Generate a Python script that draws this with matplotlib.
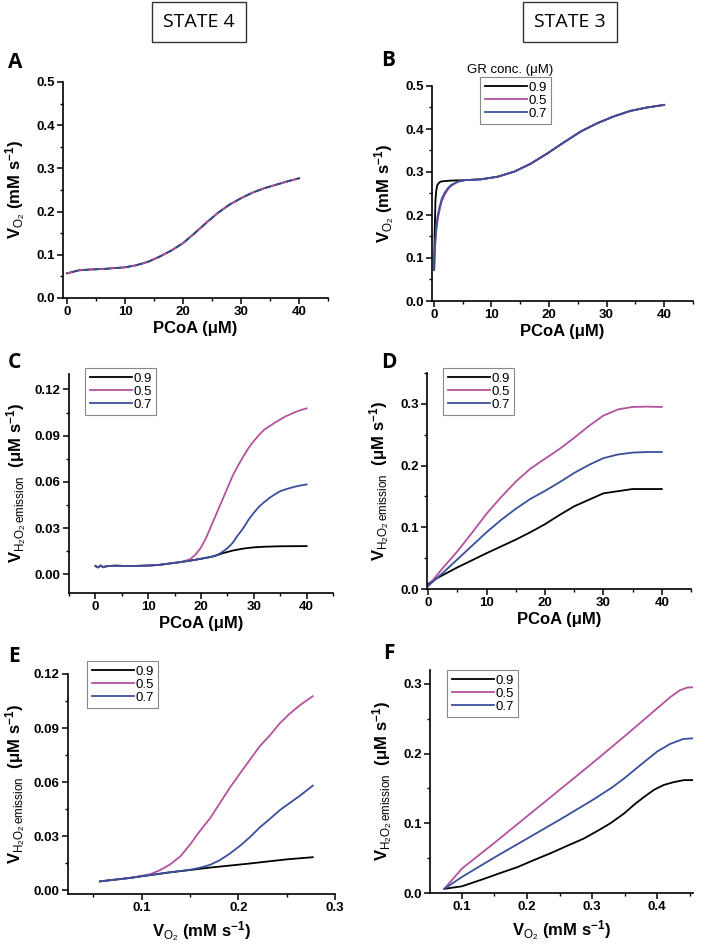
import matplotlib
matplotlib.use('Agg')
import matplotlib.pyplot as plt
from matplotlib.ticker import MultipleLocator, FormatStrFormatter

plt.rcParams['font.family'] = 'Liberation Sans'
plt.rcParams['mathtext.fontset'] = 'custom'
plt.rcParams['mathtext.rm'] = 'Liberation Sans'
plt.rcParams['mathtext.it'] = 'Liberation Sans:italic'
plt.rcParams['mathtext.bf'] = 'Liberation Sans:bold'
plt.rcParams['mathtext.default'] = 'regular'

# ---- data ----
gr_labels = ['0.9', '0.5', '0.7']
colors = ['black', '#b3529e', '#3a4f9a']

# A: state 4, V_O2 vs PCoA (all three GR conc. overlap)
pcoa_a = [0, 2, 4, 6, 8, 10, 12, 14, 16, 18, 20, 22, 24, 26, 28, 30, 32, 34, 36, 38, 40]
vo2_a = [0.057, 0.064, 0.066, 0.067, 0.069, 0.071, 0.076, 0.084, 0.096, 0.110, 0.127,
         0.150, 0.174, 0.197, 0.216, 0.231, 0.244, 0.254, 0.262, 0.270, 0.277]

# B: state 3, V_O2 vs PCoA; fast initial rise differs, rest is shared
pcoa_b_start_09 = [0.07, 0.15, 0.3, 0.45, 0.63, 1.0, 1.3, 2.0, 3.0, 4.0]
vo2_b_start_09 = [0.072, 0.15, 0.235, 0.258, 0.270, 0.276, 0.278, 0.279, 0.280, 0.2805]
pcoa_b_start_05 = [0.07, 0.2, 0.46, 0.7, 1.03, 1.4, 1.9, 2.5, 3.05, 4.2]
vo2_b_start_05 = [0.072, 0.12, 0.165, 0.19, 0.212, 0.232, 0.247, 0.260, 0.268, 0.2775]
pcoa_b_start_07 = [0.07, 0.2, 0.46, 0.7, 1.03, 1.4, 1.9, 2.5, 3.05, 4.2]
vo2_b_start_07 = [0.072, 0.13, 0.175, 0.20, 0.22, 0.238, 0.252, 0.263, 0.270, 0.2775]
pcoa_b_rest = [5.4, 8.2, 11.1, 14.0, 16.8, 19.7, 22.6, 25.5, 28.3, 31.2, 34.1, 37.0, 40.0]
vo2_b_rest = [0.281, 0.283, 0.289, 0.301, 0.319, 0.343, 0.369, 0.394, 0.413, 0.429, 0.442, 0.450, 0.456]

# C: state 4, H2O2 emission vs PCoA
pcoa_c_low = [0, 0.5, 1, 1.5, 2, 3, 4, 6, 8, 10, 12]
h2o2_c_low = [0.0055, 0.0046, 0.0058, 0.0047, 0.0053, 0.0056, 0.0057, 0.0055, 0.0056, 0.0058, 0.0062]
pcoa_c_09 = [14, 16, 18, 20, 22, 23, 24, 26, 28, 30, 32, 35, 40]
h2o2_c_09 = [0.0071, 0.0080, 0.0090, 0.0102, 0.0115, 0.0125, 0.0137, 0.0155, 0.0168, 0.0176, 0.0180, 0.0183, 0.0184]
pcoa_c_05 = [14, 16, 17, 18, 19, 20, 21, 22, 23, 24, 25, 26, 27, 28, 29, 30, 31, 32, 33, 34, 35, 36, 37, 38, 39, 40]
h2o2_c_05 = [0.0071, 0.0080, 0.0088, 0.0100, 0.0130, 0.0175, 0.0240, 0.0320, 0.0400, 0.0480, 0.0560, 0.0640,
             0.0705, 0.0765, 0.0820, 0.0865, 0.0905, 0.0940, 0.0962, 0.0985, 0.1005, 0.1025, 0.1040, 0.1055,
             0.1067, 0.1077]
pcoa_c_07 = [14, 16, 18, 20, 22, 23, 24, 25, 26, 27, 28, 29, 30, 31, 32, 33, 34, 35, 36, 37, 38, 39, 40]
h2o2_c_07 = [0.0071, 0.0080, 0.0090, 0.0102, 0.0115, 0.0125, 0.0145, 0.0170, 0.0205, 0.0255, 0.0300, 0.0355,
             0.0400, 0.0440, 0.0470, 0.0497, 0.0520, 0.0540, 0.0552, 0.0562, 0.0571, 0.0578, 0.0584]

# D: state 3, H2O2 emission vs PCoA
pcoa_d_09 = [0, 1, 5, 10, 15, 17.5, 20, 22.5, 25, 30, 35, 40]
h2o2_d_09 = [0.008, 0.015, 0.035, 0.058, 0.080, 0.092, 0.105, 0.120, 0.134, 0.155, 0.162, 0.162]
pcoa_d = [0, 2.5, 5, 7.5, 10, 12.5, 15, 17.5, 20, 22.5, 25, 27.5, 30, 32.5, 35, 37.5, 40]
h2o2_d_05 = [0.005, 0.034, 0.061, 0.091, 0.122, 0.149, 0.174, 0.195, 0.211, 0.227, 0.245, 0.264, 0.281,
             0.291, 0.295, 0.2955, 0.295]
h2o2_d_07 = [0.005, 0.026, 0.048, 0.070, 0.092, 0.112, 0.130, 0.146, 0.159, 0.173, 0.188, 0.201, 0.212,
             0.218, 0.221, 0.222, 0.222]

# E: state 4, H2O2 emission vs V_O2
vo2_e_09 = [0.057, 0.07, 0.088, 0.109, 0.129, 0.15, 0.17, 0.19, 0.21, 0.23, 0.25, 0.277]
h2o2_e_09 = [0.0050, 0.0058, 0.0069, 0.0085, 0.0100, 0.0113, 0.0126, 0.0137, 0.0148, 0.0160, 0.0172, 0.0184]
vo2_e_05 = [0.057, 0.07, 0.088, 0.109, 0.119, 0.129, 0.140, 0.150, 0.160, 0.171, 0.181, 0.191, 0.202,
            0.212, 0.222, 0.233, 0.243, 0.253, 0.264, 0.277]
h2o2_e_05 = [0.0050, 0.0058, 0.0069, 0.0090, 0.0112, 0.0142, 0.0188, 0.0253, 0.0327, 0.0401, 0.0484, 0.0567,
             0.0650, 0.0724, 0.0798, 0.0862, 0.0927, 0.0979, 0.1028, 0.1077]
vo2_e_07 = [0.057, 0.07, 0.088, 0.109, 0.129, 0.150, 0.160, 0.171, 0.181, 0.191, 0.202, 0.212, 0.222,
            0.233, 0.243, 0.253, 0.264, 0.277]
h2o2_e_07 = [0.0050, 0.0058, 0.0069, 0.0085, 0.0100, 0.0114, 0.0125, 0.0142, 0.0168, 0.0203, 0.0248, 0.0295,
             0.0348, 0.0398, 0.0445, 0.0484, 0.0526, 0.0581]

# F: state 3, H2O2 emission vs V_O2
vo2_f_09 = [0.073, 0.10, 0.133, 0.16, 0.185, 0.21, 0.236, 0.26, 0.287, 0.31, 0.328, 0.349, 0.365, 0.38,
            0.395, 0.41, 0.425, 0.441, 0.455]
h2o2_f_09 = [0.006, 0.0096, 0.020, 0.029, 0.037, 0.047, 0.057, 0.067, 0.078, 0.090, 0.100, 0.114, 0.127,
             0.138, 0.148, 0.155, 0.159, 0.162, 0.162]
vo2_f_05 = [0.073, 0.10, 0.15, 0.20, 0.25, 0.30, 0.35, 0.40, 0.42, 0.435, 0.447, 0.455]
h2o2_f_05 = [0.006, 0.035, 0.072, 0.110, 0.148, 0.186, 0.225, 0.265, 0.281, 0.291, 0.295, 0.295]
vo2_f_07 = [0.073, 0.10, 0.15, 0.20, 0.25, 0.30, 0.33, 0.35, 0.38, 0.40, 0.42, 0.44, 0.455]
h2o2_f_07 = [0.006, 0.023, 0.051, 0.078, 0.105, 0.133, 0.151, 0.165, 0.188, 0.203, 0.214, 0.221, 0.222]

W, H = 707, 947
fig = plt.figure(figsize=(W / 100, H / 100), dpi=100)


def add_ax(left, right, top, bottom):
    return fig.add_axes([left / W, 1 - bottom / H, (right - left) / W, (bottom - top) / H])


def style(ax, xlim, ylim, xmaj, ymaj, xfmt, yfmt):
    ax.set_xlim(*xlim)
    ax.set_ylim(*ylim)
    for s in ['top', 'right']:
        ax.spines[s].set_visible(False)
    for s in ['left', 'bottom']:
        ax.spines[s].set_linewidth(1.2)
    ax.xaxis.set_major_locator(MultipleLocator(xmaj))
    ax.xaxis.set_minor_locator(MultipleLocator(xmaj / 2))
    ax.yaxis.set_major_locator(MultipleLocator(ymaj))
    ax.yaxis.set_minor_locator(MultipleLocator(ymaj / 2))
    ax.xaxis.set_major_formatter(FormatStrFormatter(xfmt))
    ax.yaxis.set_major_formatter(FormatStrFormatter(yfmt))
    ax.tick_params(which='major', direction='out', length=4, width=1.1, labelsize=9.5, pad=2)
    ax.tick_params(which='minor', direction='out', length=2.5, width=1)


def legend(ax, anchor):
    leg = ax.legend(loc='upper left', bbox_to_anchor=anchor, borderaxespad=0,
                    prop={'weight': 'normal', 'size': 9.5}, handlelength=3.2,
                    handletextpad=0.1, labelspacing=0.05, borderpad=0.35,
                    fancybox=False, framealpha=1, edgecolor='#888888')
    leg.get_frame().set_linewidth(0.8)


vo2_label = r'V$_{\mathrm{O_2}}$ (mM s$^{-1}$)'
h2o2_label = r'V$_{\mathrm{H_2O_2\,emission}}$  (μM s$^{-1}$)'
lw = 1.3
lab = dict(fontsize=12, fontweight='bold')

# A
ax = add_ax(63, 328, 82, 298)
ax.plot(pcoa_a, vo2_a, color=colors[0], lw=lw)
ax.plot(pcoa_a, vo2_a, color=colors[1], lw=lw, dashes=(3, 3))
ax.plot(pcoa_a, vo2_a, color=colors[2], lw=lw, linestyle=(3, (3, 3)))
style(ax, (-0.7, 45), (0, 0.5), 10, 0.1, '%d', '%.1f')
ax.set_xlabel('PCoA (μM)', labelpad=2, **lab)
ax.set_ylabel(vo2_label, labelpad=6, **lab)

# B
ax = add_ax(432, 693, 86, 301)
ax.plot(pcoa_b_start_09 + pcoa_b_rest, vo2_b_start_09 + vo2_b_rest, color=colors[0], lw=lw, label=gr_labels[0])
ax.plot(pcoa_b_start_05 + pcoa_b_rest, vo2_b_start_05 + vo2_b_rest, color=colors[1], lw=lw, label=gr_labels[1])
ax.plot(pcoa_b_start_07 + pcoa_b_rest, vo2_b_start_07 + vo2_b_rest, color=colors[2], lw=lw, label=gr_labels[2])
style(ax, (-0.3, 45), (0, 0.5), 10, 0.1, '%d', '%.1f')
ax.set_xlabel('PCoA (μM)', labelpad=2, **lab)
ax.set_ylabel(vo2_label, labelpad=6, **lab)
legend(ax, ((480 - 432) / 261, (301 - 77) / 215))
fig.text(510 / W, 1 - 70 / H, 'GR conc. (μM)', ha='center', va='center', fontsize=9.5)

# C
ax = add_ax(69, 333, 374, 593)
ax.plot(pcoa_c_low + pcoa_c_09, h2o2_c_low + h2o2_c_09, color=colors[0], lw=lw, label=gr_labels[0])
ax.plot(pcoa_c_low + pcoa_c_05, h2o2_c_low + h2o2_c_05, color=colors[1], lw=lw, label=gr_labels[1])
ax.plot(pcoa_c_low + pcoa_c_07, h2o2_c_low + h2o2_c_07, color=colors[2], lw=lw, label=gr_labels[2])
style(ax, (-5, 45), (-0.012, 0.13), 10, 0.03, '%d', '%.2f')
ax.set_xlabel('PCoA (μM)', labelpad=2, **lab)
ax.set_ylabel(h2o2_label, labelpad=4, **lab)
legend(ax, ((85 - 69) / 264, (593 - 368) / 219))

# D
ax = add_ax(427, 691, 373, 589)
ax.plot(pcoa_d_09, h2o2_d_09, color=colors[0], lw=lw, label=gr_labels[0])
ax.plot(pcoa_d, h2o2_d_05, color=colors[1], lw=lw, label=gr_labels[1])
ax.plot(pcoa_d, h2o2_d_07, color=colors[2], lw=lw, label=gr_labels[2])
style(ax, (-0.2, 45), (0, 0.35), 10, 0.1, '%d', '%.1f')
ax.set_xlabel('PCoA (μM)', labelpad=2, **lab)
ax.set_ylabel(h2o2_label, labelpad=6, **lab)
legend(ax, ((443 - 427) / 264, (589 - 368) / 216))

# E
ax = add_ax(68, 335, 674, 894)
ax.plot(vo2_e_09, h2o2_e_09, color=colors[0], lw=lw, label=gr_labels[0])
ax.plot(vo2_e_05, h2o2_e_05, color=colors[1], lw=lw, label=gr_labels[1])
ax.plot(vo2_e_07, h2o2_e_07, color=colors[2], lw=lw, label=gr_labels[2])
style(ax, (0.024, 0.3), (-0.002, 0.12), 0.1, 0.03, '%.1f', '%.2f')
ax.set_xlabel(vo2_label, labelpad=4, **lab)
ax.set_ylabel(h2o2_label, labelpad=4, **lab)
legend(ax, ((87 - 68) / 267, (894 - 661) / 220))

# F
ax = add_ax(430, 693, 670, 893)
ax.plot(vo2_f_09, h2o2_f_09, color=colors[0], lw=lw, label=gr_labels[0])
ax.plot(vo2_f_05, h2o2_f_05, color=colors[1], lw=lw, label=gr_labels[1])
ax.plot(vo2_f_07, h2o2_f_07, color=colors[2], lw=lw, label=gr_labels[2])
style(ax, (0.051, 0.455), (0, 0.32), 0.1, 0.1, '%.1f', '%.1f')
ax.set_xlabel(vo2_label, labelpad=4, **lab)
ax.set_ylabel(h2o2_label, labelpad=6, **lab)
legend(ax, ((447 - 430) / 263, 1.0))

# panel letters
for letter, x, y in [('A', 8, 62), ('B', 381, 60), ('C', 8, 362),
                     ('D', 381, 362), ('E', 8, 657), ('F', 383, 653)]:
    fig.text(x / W, 1 - y / H, letter, ha='left', va='center', fontsize=15,
             fontweight='bold', family='Open Sans')

# state boxes
for label, x in [('STATE 4', 199), ('STATE 3', 570)]:
    fig.text(x / W, 1 - 22 / H, label, ha='center', va='center', fontsize=14,
             family='Open Sans',
             bbox=dict(boxstyle='square,pad=0.55', facecolor='white', edgecolor='#333333', linewidth=1))

# bold tick labels (set after a first draw so the tick objects exist)
fig.canvas.draw()
for ax in fig.axes:
    for t in ax.xaxis.get_major_ticks() + ax.yaxis.get_major_ticks():
        t.label1.set_fontweight('bold')

fig.savefig('out.png', dpi=100)
